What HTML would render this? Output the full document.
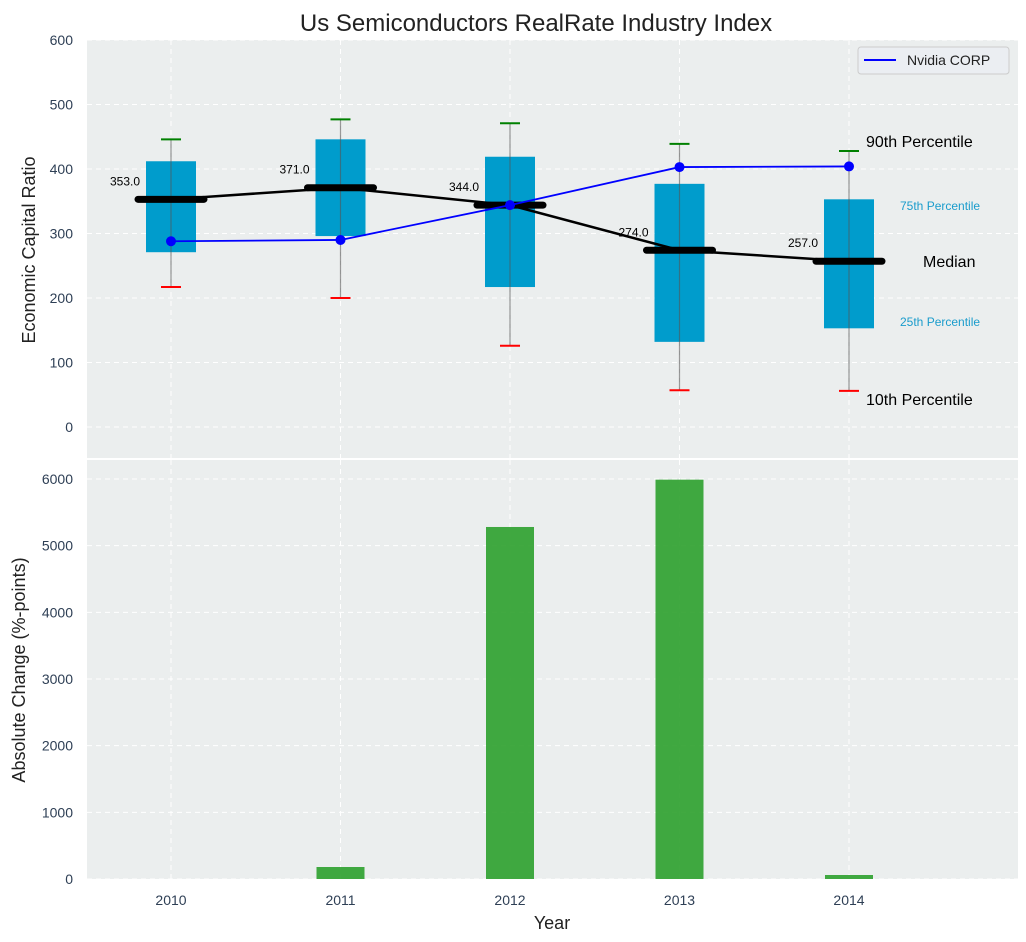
<!DOCTYPE html>
<html><head><meta charset="utf-8"><style>
html,body{margin:0;padding:0;background:#fff;}
svg{display:block;font-family:"Liberation Sans","DejaVu Sans",sans-serif;}
</style></head><body>
<svg id="chart" width="1026" height="942"></svg>
<script>
const years=[2010,2011,2012,2013,2014];
const p10=[217,200,126,57,56];
const p25=[271,296,217,132,153];
const medians=[353,371,344,274,257];
const p75=[412,446,419,377,353];
const p90=[446,477,471,439,428];
const nvidia=[288,290,344,403,404];
const changes=[0,180,5280,5990,60];
const topTicks=[0,100,200,300,400,500,600];
const botTicks=[0,1000,2000,3000,4000,5000,6000];

const NS="http://www.w3.org/2000/svg";
const svg=document.getElementById('chart');
function el(tag,attrs,parent){const e=document.createElementNS(NS,tag);for(const k in attrs)e.setAttribute(k,attrs[k]);(parent||svg).appendChild(e);return e;}
const L=87,R=1018;
const x=v=>171+(v-2010)*169.5;
const yT=v=>427-v*0.645;
const yB=v=>879-v*0.06667;

let bg=el('rect',{x:L,y:40,width:R-L,height:418,fill:'#ebeeee'});


bg=el('rect',{x:L,y:460,width:R-L,height:419,fill:'#ebeeee'});



topTicks.forEach(t=>{
 el('line',{x1:L,x2:R,y1:yT(t),y2:yT(t),stroke:'#fff','stroke-dasharray':'5,4','stroke-width':1});
 const tx=el('text',{x:73,y:yT(t)+5,'text-anchor':'end','font-size':14,fill:'#2e3f55'});tx.textContent=t;
 
 
});
botTicks.forEach(t=>{
 el('line',{x1:L,x2:R,y1:yB(t),y2:yB(t),stroke:'#fff','stroke-dasharray':'5,4','stroke-width':1});
 const tx=el('text',{x:73,y:yB(t)+5,'text-anchor':'end','font-size':14,fill:'#2e3f55'});tx.textContent=t;
 
 
});
years.forEach(yr=>{
 el('line',{x1:x(yr),x2:x(yr),y1:40,y2:458,stroke:'#fff','stroke-dasharray':'5,4'});
 el('line',{x1:x(yr),x2:x(yr),y1:460,y2:879,stroke:'#fff','stroke-dasharray':'5,4'});
 const tx=el('text',{x:x(yr),y:905,'text-anchor':'middle','font-size':14,fill:'#2e3f55'});tx.textContent=yr;
 
 
});

years.forEach((yr,i)=>{
 const cx=x(yr);
 const b=el('rect',{x:cx-25,y:yT(p75[i]),width:50,height:yT(p25[i])-yT(p75[i]),fill:'#009ccc'});
 
 
 el('line',{x1:cx,x2:cx,y1:yT(p90[i]),y2:yT(p10[i]),stroke:'#555','stroke-opacity':0.6,'stroke-width':1.2});
 el('line',{x1:cx-10,x2:cx+10,y1:yT(p90[i]),y2:yT(p90[i]),stroke:'green','stroke-width':2});
 el('line',{x1:cx-10,x2:cx+10,y1:yT(p10[i]),y2:yT(p10[i]),stroke:'red','stroke-width':2});
});
let pts=years.map((yr,i)=>x(yr)+','+yT(medians[i])).join(' ');
let ml=el('polyline',{points:pts,fill:'none',stroke:'#000','stroke-width':2.5});


years.forEach((yr,i)=>{
 const m=el('line',{x1:x(yr)-33,x2:x(yr)+33,y1:yT(medians[i]),y2:yT(medians[i]),stroke:'#000','stroke-width':7,'stroke-linecap':'round'});
 
 
 const t=el('text',{x:x(yr)-31,y:yT(medians[i])-14,'text-anchor':'end','font-size':12,fill:'#000'});t.textContent=medians[i].toFixed(1);
 
 
});
pts=years.map((yr,i)=>x(yr)+','+yT(nvidia[i])).join(' ');
let nl=el('polyline',{points:pts,fill:'none',stroke:'#0000ff','stroke-width':1.8});


years.forEach((yr,i)=>{
 const c=el('circle',{cx:x(yr),cy:yT(nvidia[i]),r:5,fill:'#0000ff'});
 
 
});
const ann=[['90th Percentile',866,147,16,'#000'],['75th Percentile',900,210,12,'#1a9ccc'],['Median',923,267,16,'#000'],['25th Percentile',900,326,12,'#1a9ccc'],['10th Percentile',866,405,16,'#000']];
ann.forEach(a=>{const t=el('text',{x:a[1],y:a[2],'font-size':a[3],fill:a[4]});t.textContent=a[0];
 
 });
years.forEach((yr,i)=>{
 const b=el('rect',{x:x(yr)-24,y:yB(changes[i]),width:48,height:879-yB(changes[i]),fill:'#2ca02c','fill-opacity':0.9});
 
 
});
const lg=el('g',{});


el('rect',{x:858,y:47,width:151,height:27,rx:3,fill:'#ebeef2',stroke:'#ccc'},lg);
el('line',{x1:864,x2:896,y1:60,y2:60,stroke:'#0000ff','stroke-width':2},lg);
let lt=el('text',{x:907,y:65,'font-size':14,fill:'#222'},lg);lt.textContent='Nvidia CORP';
let t=el('text',{x:536,y:31,'text-anchor':'middle','font-size':24,fill:'#222'});t.textContent='Us Semiconductors RealRate Industry Index';


t=el('text',{x:0,y:0,'text-anchor':'middle','font-size':18,fill:'#222',transform:'translate(35,250) rotate(-90)'});t.textContent='Economic Capital Ratio';


t=el('text',{x:0,y:0,'text-anchor':'middle','font-size':18,fill:'#222',transform:'translate(25,670) rotate(-90)'});t.textContent='Absolute Change (%-points)';


t=el('text',{x:552,y:929,'text-anchor':'middle','font-size':18,fill:'#222'});t.textContent='Year';


</script>
</body></html>
